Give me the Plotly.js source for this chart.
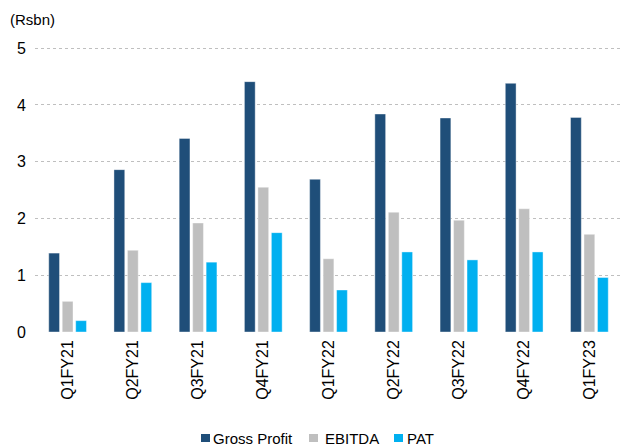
<!DOCTYPE html>
<html>
<head>
<meta charset="utf-8">
<script src="https://cdn.plot.ly/plotly-3.0.1.min.js"></script>
<style>html,body{margin:0;padding:0;background:#fff;}#chart{width:625px;height:446px;}</style>
</head>
<body>
<div id="chart"></div>
<script>
const quarters = ["Q1FY21","Q2FY21","Q3FY21","Q4FY21","Q1FY22","Q2FY22","Q3FY22","Q4FY22","Q1FY23"];
const grossProfit = [1.39, 2.86, 3.41, 4.41, 2.69, 3.84, 3.77, 4.38, 3.78];
const ebitda = [0.54, 1.44, 1.92, 2.55, 1.29, 2.11, 1.97, 2.17, 1.72];
const pat = [0.20, 0.87, 1.23, 1.75, 0.74, 1.41, 1.27, 1.41, 0.96];
const yTicks = [0, 1, 2, 3, 4, 5];
const seriesNames = ["Gross Profit", "EBITDA", "PAT"];
const seriesColors = ["#1F4E79", "#BFBFBF", "#00B0F0"];

const fam = "Liberation Sans, Arial, sans-serif";
const font = {family: fam, color: "#000", size: 15};
const values = [grossProfit, ebitda, pat];
const data = seriesNames.map((name, i) => ({
  type: "bar", name: name, x: quarters, y: values[i],
  marker: {color: seriesColors[i], line: {color: "rgba(255,255,255,0.5)", width: 0.8}},
  hoverinfo: "none", showlegend: false
}));

// Manual legend (squares + labels) placed in paper coordinates
const legSquareX = [0.2828, 0.4668, 0.6116];
const legTextX = [0.3020, 0.4925, 0.6325];
const shapes = seriesNames.map((n, i) => ({
  type: "rect", xref: "paper", yref: "paper",
  x0: legSquareX[i], x1: legSquareX[i] + 0.0153, y0: -0.3579, y1: -0.3860,
  fillcolor: seriesColors[i], line: {width: 0}
}));
const annotations = seriesNames.map((n, i) => ({
  text: n, xref: "paper", yref: "paper", x: legTextX[i], xanchor: "left",
  y: -0.3737, yanchor: "middle", showarrow: false, borderpad: 0,
  font: {family: fam, size: 15, color: "#000"}
}));
annotations.push({text: "(Rsbn)", xref: "paper", yref: "paper", x: -0.046, xanchor: "left",
                  y: 1.06, yanchor: "bottom", showarrow: false, font: {size: 15, color: "#000"}});

const layout = {
  width: 625, height: 446,
  margin: {l: 35, r: 3, t: 47, b: 114},
  paper_bgcolor: "#fff", plot_bgcolor: "#fff",
  font: font,
  barmode: "group", bargap: 0.38, bargroupgap: 0.2,
  showlegend: false,
  xaxis: {type: "category", tickangle: -90, showgrid: false, zeroline: false, showline: false,
          ticks: "", tickfont: {size: 16}, automargin: false, ticklabelstandoff: 4, fixedrange: true},
  yaxis: {range: [0, 5.02], tickvals: yTicks, ticktext: yTicks.map(String), showgrid: true,
          gridcolor: "#BFBFBF", griddash: "dot", gridwidth: 1, zeroline: false, showline: false,
          ticks: "", tickfont: {size: 16}, ticklabelstandoff: 8, automargin: false, fixedrange: true},
  shapes: shapes,
  annotations: annotations
};
Plotly.newPlot("chart", data, layout, {displayModeBar: false, staticPlot: true});
</script>
</body>
</html>
